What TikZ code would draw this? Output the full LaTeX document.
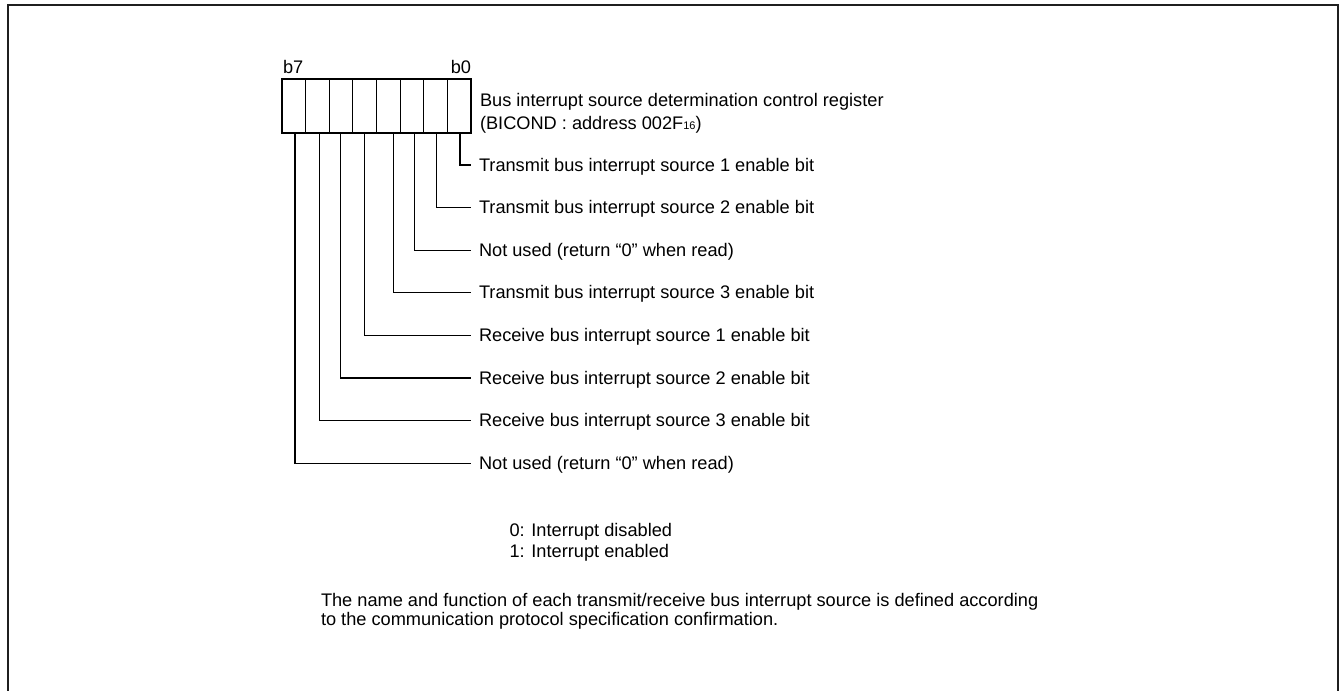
\documentclass[tikz,border=0pt]{standalone}
\usepackage{fontspec}
\setmainfont{Liberation Sans}
\begin{document}
\begin{tikzpicture}[x=0.5pt,y=-0.5pt,
  lab/.style={inner sep=0pt, outer sep=0pt, font=\fontsize{9.1}{11}\selectfont, anchor=base west},
  labr/.style={lab, anchor=base east},
  lead/.style={line width=0.55pt, black},
  cell/.style={draw=black, line width=0.55pt, minimum width=11.8125pt, minimum height=27pt, inner sep=0pt, outer sep=0pt},
  frame/.style={draw=black!88, line width=1.2pt}]
\useasboundingbox (0,0) rectangle (1340,691);
% outer frame (open at bottom)
\draw[frame] (8,700) -- (8,5) -- (1337.7,5) -- (1337.7,700);
% register cells
\foreach \i in {0,...,7} {
  \node[cell] (cell\i) at ({471-(\i+0.5)*23.625},106) {};
}
\node[lab] (b7) at (283,73) {b7};
\node[labr] (b0) at (471,73) {b0};
\node[lab] (title1) at (480,106) {Bus interrupt source determination control register};
\node[lab] (title2) at (480,129) {(BICOND : address 002F{\fontsize{5.5}{6}\selectfont 16})};
% bit descriptions
\foreach \b/\xx/\t in {0/460/{Transmit bus interrupt source 1 enable bit},
  1/436.7/{Transmit bus interrupt source 2 enable bit},
  2/414.3/{Not used (return “0” when read)},
  3/393.3/{Transmit bus interrupt source 3 enable bit},
  4/364.3/{Receive bus interrupt source 1 enable bit},
  5/340.7/{Receive bus interrupt source 2 enable bit},
  6/319.3/{Receive bus interrupt source 3 enable bit},
  7/295/{Not used (return “0” when read)}} {
  \pgfmathsetmacro\yy{165+42.6*\b}
  \coordinate (top\b) at (\xx,133);
  \coordinate (end\b) at (471,\yy);
  \node[lab] (lab\b) at (479,\yy+6) {\t};
  \draw[lead] (top\b) |- (end\b);
}
\node[lab] (legend0) at (509.5,536) {0: Interrupt disabled};
\node[lab] (legend1) at (509.5,557) {1: Interrupt enabled};
\node[lab] (note1) at (321,606) {The name and function of each transmit/receive bus interrupt source is defined according};
\node[lab] (note2) at (321,625) {to the communication protocol specification confirmation.};
\end{tikzpicture}
\end{document}
